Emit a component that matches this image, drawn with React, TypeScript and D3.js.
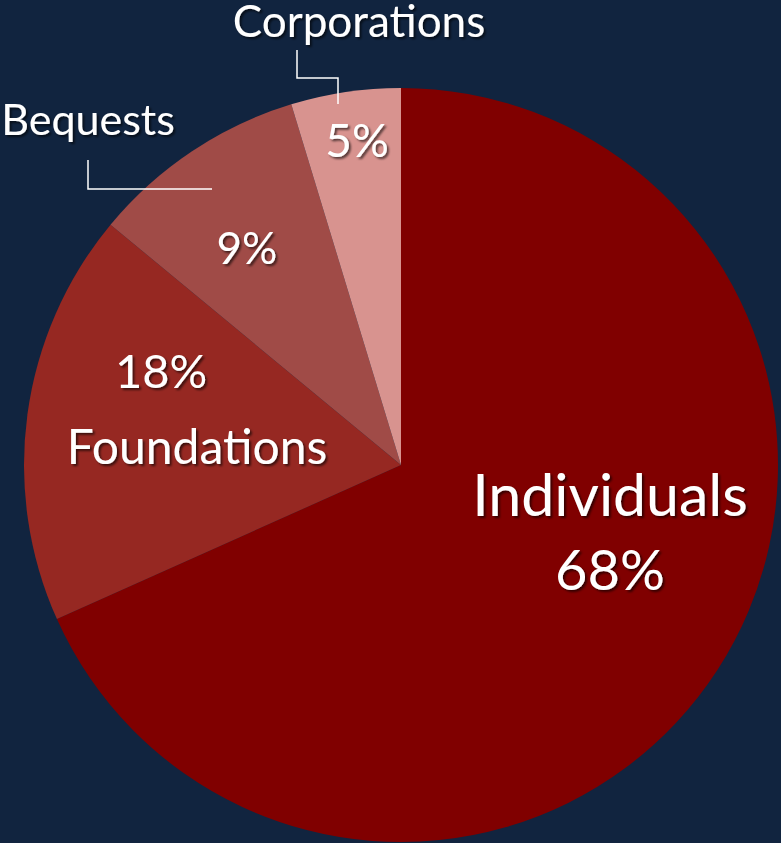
import React from "react";
import * as d3 from "d3";

const categories = ["Individuals", "Foundations", "Bequests", "Corporations"];
const values = [68.3, 17.7, 9.3, 4.7];
const percentLabels = ["68%", "18%", "9%", "5%"];
const sliceColors = ["#800000", "#962822", "#a04b47", "#d8938f"];

const W = 781;
const H = 843;
const CX = 401;
const CY = 465;
const R = 377;

type Lbl = { text: string; x: number; y: number; size: number };

export default function App() {
  const pie = d3.pie<number>().sort(null).startAngle(0).endAngle(2 * Math.PI);
  const arcs = pie(values);
  const arc = d3.arc<d3.PieArcDatum<number>>().innerRadius(0).outerRadius(R);

  const labels: Lbl[] = [
    { text: categories[0], x: 610, y: 516, size: 59 },
    { text: percentLabels[0], x: 610, y: 590, size: 56 },
    { text: percentLabels[1], x: 161, y: 388, size: 47 },
    { text: categories[1], x: 197, y: 464, size: 48 },
    { text: percentLabels[2], x: 247, y: 264, size: 44 },
    { text: percentLabels[3], x: 357, y: 157, size: 46 },
    { text: categories[3], x: 359, y: 37, size: 44 },
    { text: categories[2], x: 88, y: 135, size: 43 },
  ];

  const leaders = [
    [[297, 50], [297, 78], [338, 78], [338, 104]],
    [[88, 160], [88, 189], [212, 189]],
  ];
  const line = d3.line();

  return (
    <svg
      width={W}
      height={H}
      style={{ position: "absolute", left: 0, top: 0, display: "block" }}
    >
      <defs>
        <filter id="sh" x="-20%" y="-20%" width="140%" height="160%">
          <feDropShadow dx="2" dy="2" stdDeviation="1.2" floodColor="#000" floodOpacity="0.6" />
        </filter>
      </defs>
      <rect x={0} y={0} width={W} height={H} fill="#11243f" />
      <g transform={`translate(${CX},${CY})`}>
        {arcs.map((a, i) => (
          <path key={i} d={arc(a) || ""} fill={sliceColors[i]} />
        ))}
      </g>
      {leaders.map((pts, i) => (
        <path
          key={i}
          d={line(pts as [number, number][]) || ""}
          fill="none"
          stroke="#ffffff"
          strokeWidth={1.5}
        />
      ))}
      <g filter="url(#sh)">
        {labels.map((l, i) => (
          <text
            key={i}
            x={l.x}
            y={l.y}
            textAnchor="middle"
            fontFamily="Lato, 'Open Sans', sans-serif"
            fontSize={l.size}
            fill="#ffffff"
          >
            {l.text}
          </text>
        ))}
      </g>
    </svg>
  );
}
